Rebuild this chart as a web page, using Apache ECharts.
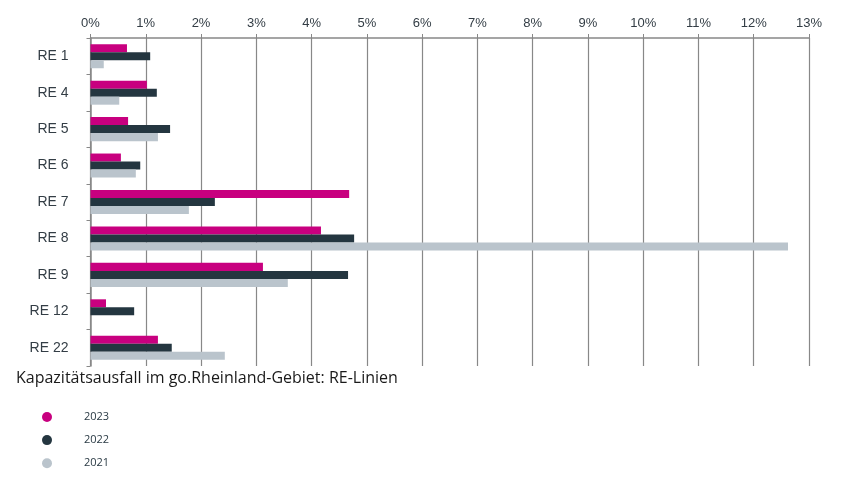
<!DOCTYPE html>
<html><head><meta charset="utf-8">
<script src="https://cdn.jsdelivr.net/npm/echarts@6/dist/echarts.min.js"></script>
<style>html,body{margin:0;padding:0;background:#fff}#c{width:852px;height:492px}</style>
</head><body><div id="c"></div>
<script>
const categories = ['RE 1','RE 4','RE 5','RE 6','RE 7','RE 8','RE 9','RE 12','RE 22'];
const values2023 = [0.66, 1.02, 0.68, 0.55, 4.68, 4.17, 3.12, 0.28, 1.22];
const values2022 = [1.08, 1.20, 1.44, 0.90, 2.25, 4.77, 4.66, 0.79, 1.47];
const values2021 = [0.24, 0.52, 1.22, 0.82, 1.78, 12.62, 3.57, null, 2.43];
const seriesNames = ['2023','2022','2021'];
const colors = ['#C8007F','#243640','#BAC4CC'];
const titleText = 'Kapazitätsausfall im go.Rheinland-Gebiet: RE-Linien';

const chart = echarts.init(document.getElementById('c'), null, {renderer:'canvas'});
const data = [values2023, values2022, values2021];
chart.setOption({
  animation:false,
  backgroundColor:'#fff',
  title:{text:titleText,left:16,top:370,padding:0,textStyle:{fontFamily:'Open Sans',fontSize:16,fontWeight:'normal',color:'#1a1a1a'}},
  legend:{orient:'vertical',left:42,top:411.5,padding:0,itemWidth:10,itemHeight:10,itemGap:12.1,icon:'circle',
    data:seriesNames,
    textStyle:{fontFamily:'Open Sans',fontSize:11,color:'#2a3a44',padding:[0,0,0,27]}},
  grid:{left:90.5,right:43,top:38,bottom:126},
  xAxis:{type:'value',position:'top',min:0,max:13,interval:1,
    axisLabel:{formatter:'{value}%',fontFamily:'Liberation Sans',fontSize:13,color:'#333d45',margin:8},
    axisLine:{show:true,lineStyle:{color:'#888',width:1.5}},
    axisTick:{show:true,length:4,lineStyle:{color:'#888'}},
    splitLine:{show:true,lineStyle:{color:'#888',width:1.2}}},
  yAxis:{type:'category',inverse:true,data:categories,
    axisLabel:{fontFamily:'Liberation Sans',fontSize:14,color:'#333d45',margin:22},
    axisLine:{show:true,lineStyle:{color:'#888',width:1.5}},
    axisTick:{show:true,length:4,lineStyle:{color:'#888'}}},
  series: seriesNames.map((n,i)=>({name:n,type:'bar',data:data[i],barGap:'0%',barCategoryGap:'34%',
    itemStyle:{color:colors[i]}}))
});
</script></body></html>
